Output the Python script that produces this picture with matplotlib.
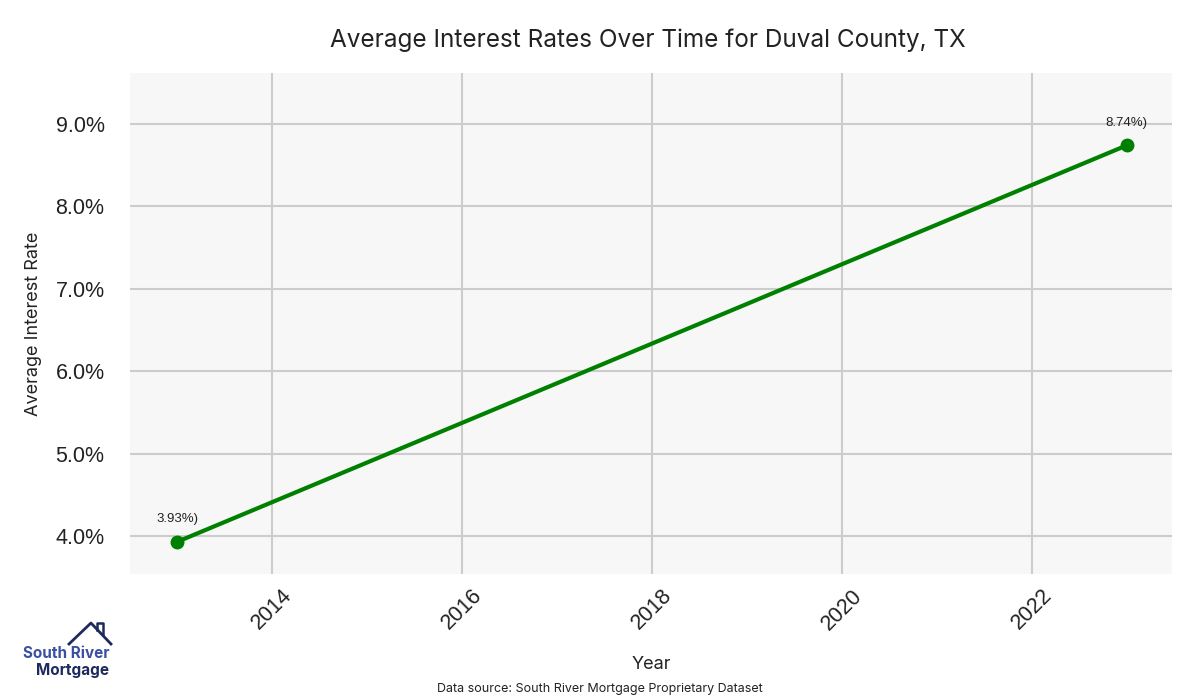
import matplotlib.pyplot as plt
from matplotlib.lines import Line2D

years = [2013, 2023]
rates = [3.93, 8.74]
yticks = [4.0, 5.0, 6.0, 7.0, 8.0, 9.0]

fig = plt.figure(figsize=(12, 7), dpi=100)
ax = fig.add_axes([0.108, 0.18, 0.869, 0.716])
ax.set_facecolor('#f7f7f7')
for s in ax.spines.values():
    s.set_visible(False)

ax.plot(years, rates, color='green', linewidth=3, marker='o', markersize=9, zorder=3)
for x, y in zip(years, rates):
    ax.annotate(f'{y:.2f}%)', (x, y), xytext=(0, 12), textcoords='offset points',
                ha='center', va='bottom', fontsize=9.5, color='#222222', family='Liberation Sans')

ax.set_ylim(3.54, 9.62)
ax.set_xlim(2012.5, 2023.48)
ax.set_yticks(yticks)
ax.set_yticklabels([f'{v:.1f}%' for v in yticks])
ax.set_xticks([2014, 2016, 2018, 2020, 2022])
ax.grid(True, color='#cccccc', linewidth=1.5)
ax.set_axisbelow(True)
ax.tick_params(axis='y', length=0, labelsize=15.5, colors='#222222', pad=18)
ax.tick_params(axis='x', length=0, labelsize=15.5, colors='#222222', pad=8)
for lab in ax.get_xticklabels() + ax.get_yticklabels():
    lab.set_family('Liberation Sans')
plt.setp(ax.get_xticklabels(), rotation=45)

ax.set_xlabel('Year', fontsize=13, family='Inter', color='#222222', labelpad=16)
ax.set_ylabel('Average Interest Rate', fontsize=13, family='Inter', color='#222222', labelpad=10)
fig.text(0.54, 0.943, 'Average Interest Rates Over Time for Duval County, TX',
         ha='center', va='center', fontsize=17.5, family='Inter', color='#222222')
fig.text(0.5, 0.016, 'Data source: South River Mortgage Proprietary Dataset',
         ha='center', va='center', fontsize=9, family='Inter', color='#222222')

# logo
navy = '#1f2a5c'
fig.text(0.0195, 0.067, 'South River', fontsize=11, family='Inter', color='#3b4fa3',
         ha='left', va='center', fontweight='bold')
fig.text(0.030, 0.042, 'Mortgage', fontsize=11, family='Inter', color=navy,
          ha='left', va='center', fontweight='bold')
fig.add_artist(Line2D([0.0575, 0.0758, 0.0925], [0.080, 0.110, 0.080],
                      transform=fig.transFigure, color=navy, linewidth=2))
fig.add_artist(Line2D([0.0808, 0.0808, 0.0862, 0.0862], [0.100, 0.110, 0.110, 0.094],
                      transform=fig.transFigure, color=navy, linewidth=1.8))

fig.savefig('out.png', dpi=100)
